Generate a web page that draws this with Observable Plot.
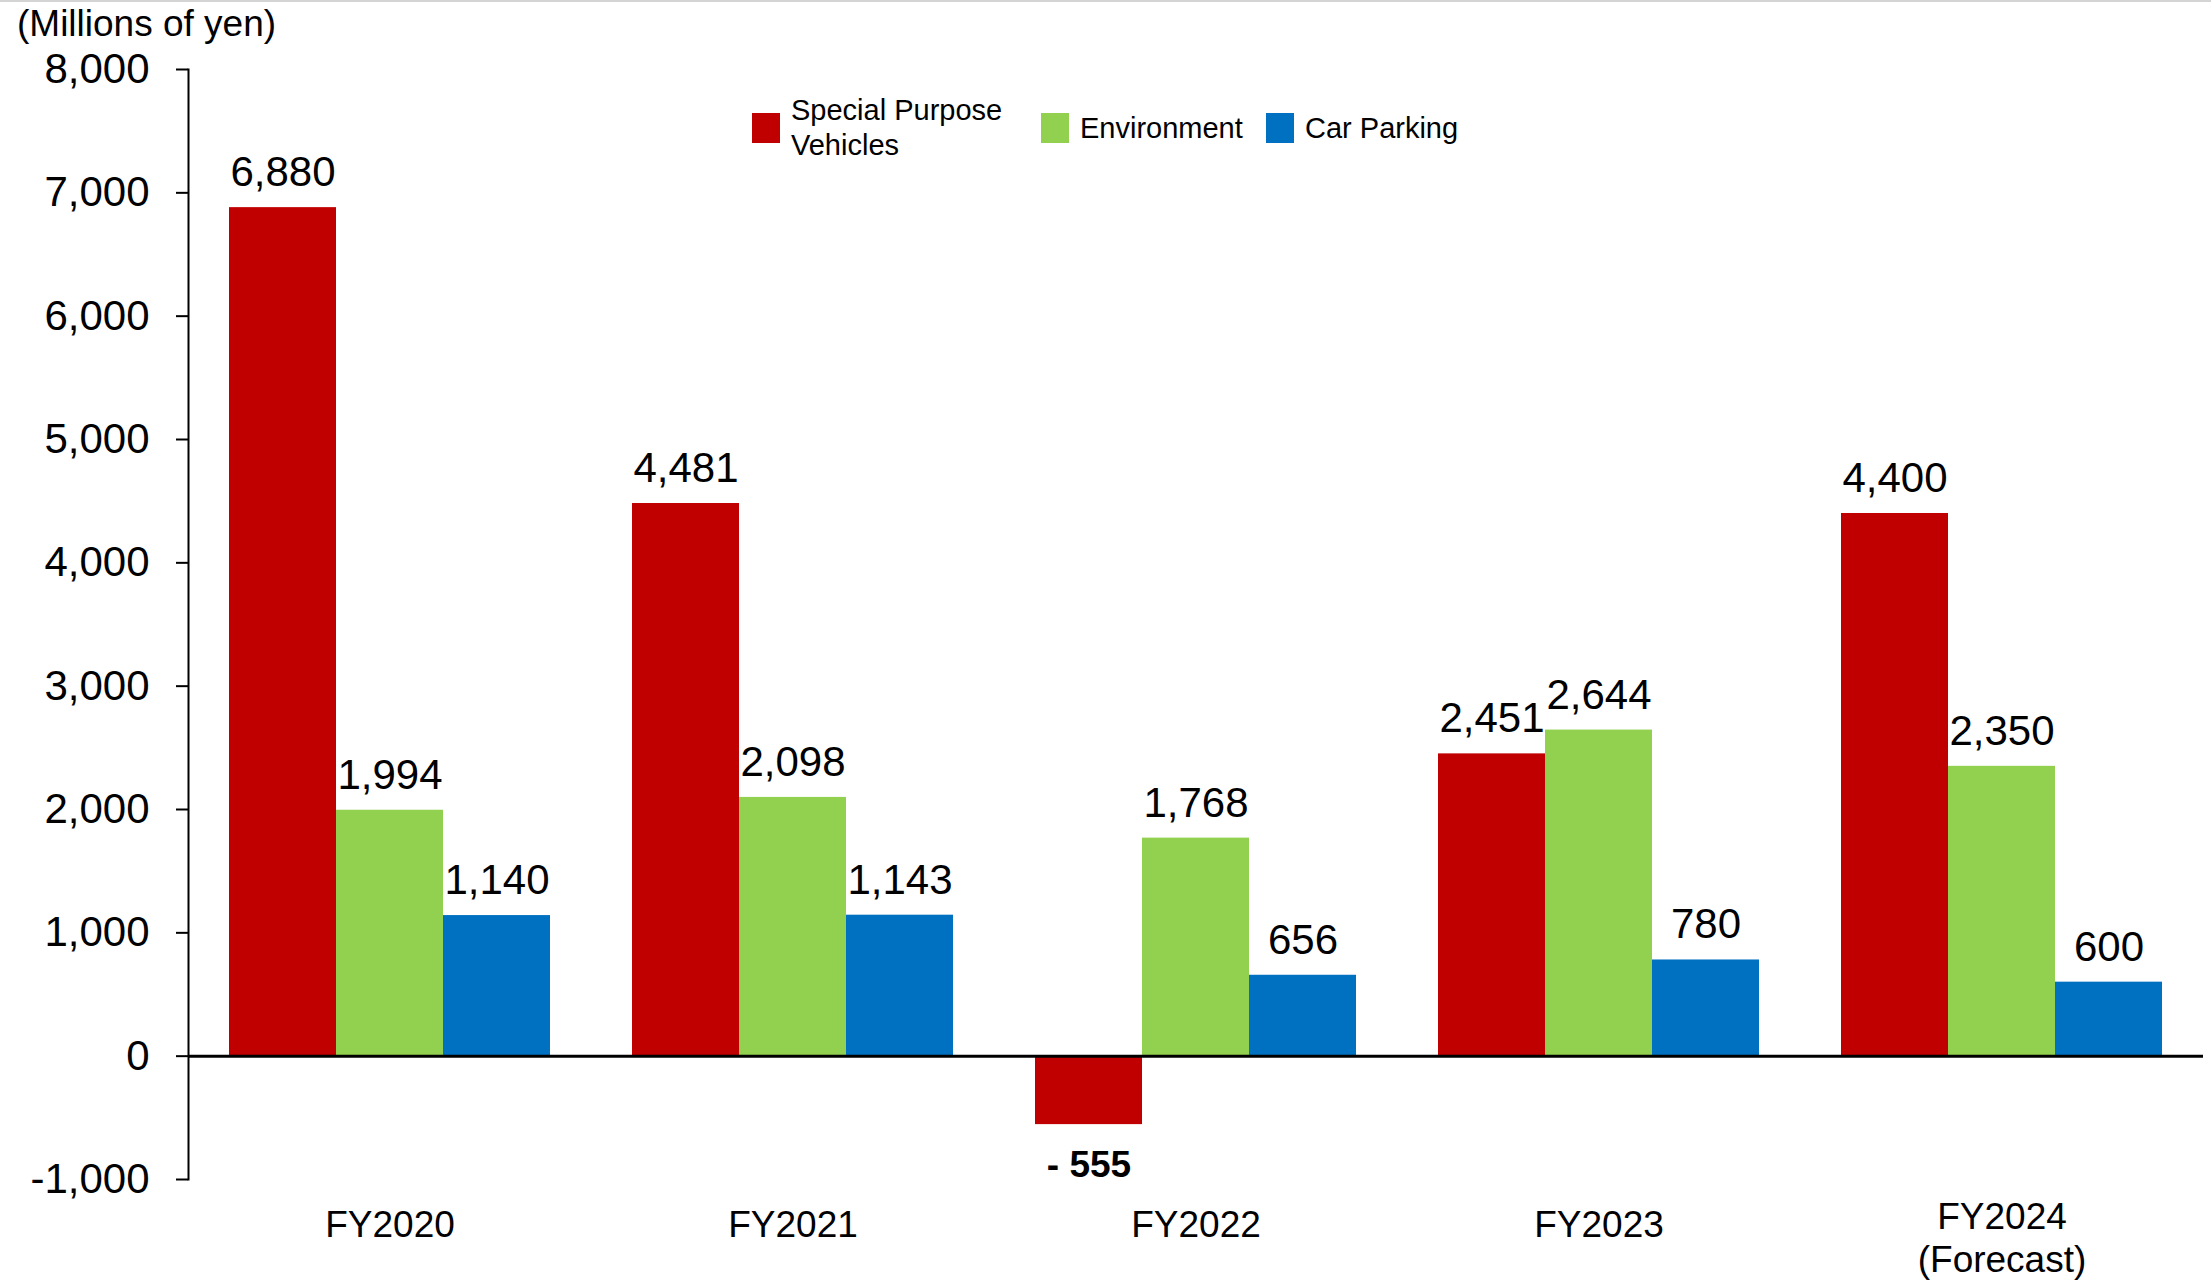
<!DOCTYPE html>
<html><head><meta charset="utf-8">
<script src="https://cdn.jsdelivr.net/npm/d3@7"></script>
<script src="https://cdn.jsdelivr.net/npm/@observablehq/plot@0.6"></script>
<style>
body{margin:0;background:#fff;font-family:"Liberation Sans",Arial,sans-serif;color:#000;}
#wrap{position:relative;width:2211px;height:1282px;overflow:hidden;}
#topline{position:absolute;left:0;top:0;width:2211px;height:2px;background:#d4d4d4;}
#title{position:absolute;left:17px;top:5px;font-size:37px;line-height:1;white-space:nowrap;}
.item{position:absolute;display:flex;align-items:center;height:70px;top:93px;}
.sw{width:28px;height:30px;margin-right:11px;flex:none;}
.lt{font-size:29px;line-height:35px;white-space:pre;}
#chart{position:absolute;left:0;top:0;}
</style></head><body>
<div id="wrap">
<div id="chart"></div>
<div id="topline"></div>
<div id="title">(Millions of yen)</div>
<div id="legend"></div>
</div>
<script>
const categories = ["FY2020", "FY2021", "FY2022", "FY2023", "FY2024\n(Forecast)"];
const series = ["Special Purpose\nVehicles", "Environment", "Car Parking"];
const colors = ["#C00000", "#92D050", "#0070C0"];
const specialPurpose = [6880, 4481, -555, 2451, 4400];
const environment = [1994, 2098, 1768, 2644, 2350];
const carParking = [1140, 1143, 656, 780, 600];
const yTicks = [-1000, 0, 1000, 2000, 3000, 4000, 5000, 6000, 7000, 8000];
const legendLeft = [752, 1041, 1266];

const seriesValues = [specialPurpose, environment, carParking];
const data = categories.flatMap((c, i) => series.map((s, j) => ({category: c, series: s, value: seriesValues[j][i]})));
const fmt = d3.format(",");
const yFmt = v => v < 0 ? "-" + fmt(-v) : fmt(v);
const barLabel = v => v < 0 ? "- " + fmt(-v) : fmt(v);
const singleLine = categories.filter(c => !c.includes("\n"));
const multiLine = categories.filter(c => c.includes("\n"));

const chart = Plot.plot({
  width: 2211, height: 1282,
  marginLeft: 187, marginRight: 7, marginTop: 69, marginBottom: 103,
  style: {fontFamily: "'Liberation Sans', Arial, sans-serif", color: "#000", background: "transparent"},
  fx: {domain: categories, padding: 0, label: null},
  x: {domain: series, paddingInner: 0, paddingOuter: 0.375, axis: null},
  y: {domain: [-1000, 8000], label: null},
  color: {domain: series, range: colors},
  marks: [
    Plot.barY(data, {fx: "category", x: "series", y: "value", fill: "series", inset: 0}),
    Plot.ruleY([0], {stroke: "#000", strokeWidth: 3}),
    Plot.frame({anchor: "left", facetAnchor: "left", stroke: "#000", strokeWidth: 2}),
    Plot.axisY({ticks: yTicks, tickFormat: yFmt, tickSize: 12, tickPadding: 27, fontSize: 42, stroke: "#000", strokeWidth: 2, label: null}),
    Plot.axisFx({ticks: singleLine, anchor: "bottom", tickSize: 0, tickPadding: 31, fontSize: 37, label: null}),
    Plot.axisFx({ticks: multiLine, anchor: "bottom", tickSize: 0, tickPadding: 18, fontSize: 37, lineHeight: 1.18, label: null}),
    Plot.text(data.filter(d => d.value >= 0), {fx: "category", x: "series", y: "value", text: d => barLabel(d.value), dy: -35, fontSize: 42}),
    Plot.text(data.filter(d => d.value < 0), {fx: "category", x: "series", y: "value", text: d => barLabel(d.value), dy: 41, fontSize: 37, fontWeight: "bold"})
  ]
});
document.getElementById("chart").appendChild(chart);

const legend = document.getElementById("legend");
series.forEach((s, i) => {
  const item = document.createElement("div");
  item.className = "item";
  item.style.left = legendLeft[i] + "px";
  const sw = document.createElement("div");
  sw.className = "sw";
  sw.style.background = colors[i];
  const lt = document.createElement("div");
  lt.className = "lt";
  lt.textContent = s;
  item.appendChild(sw);
  item.appendChild(lt);
  legend.appendChild(item);
});
</script>
</body></html>
